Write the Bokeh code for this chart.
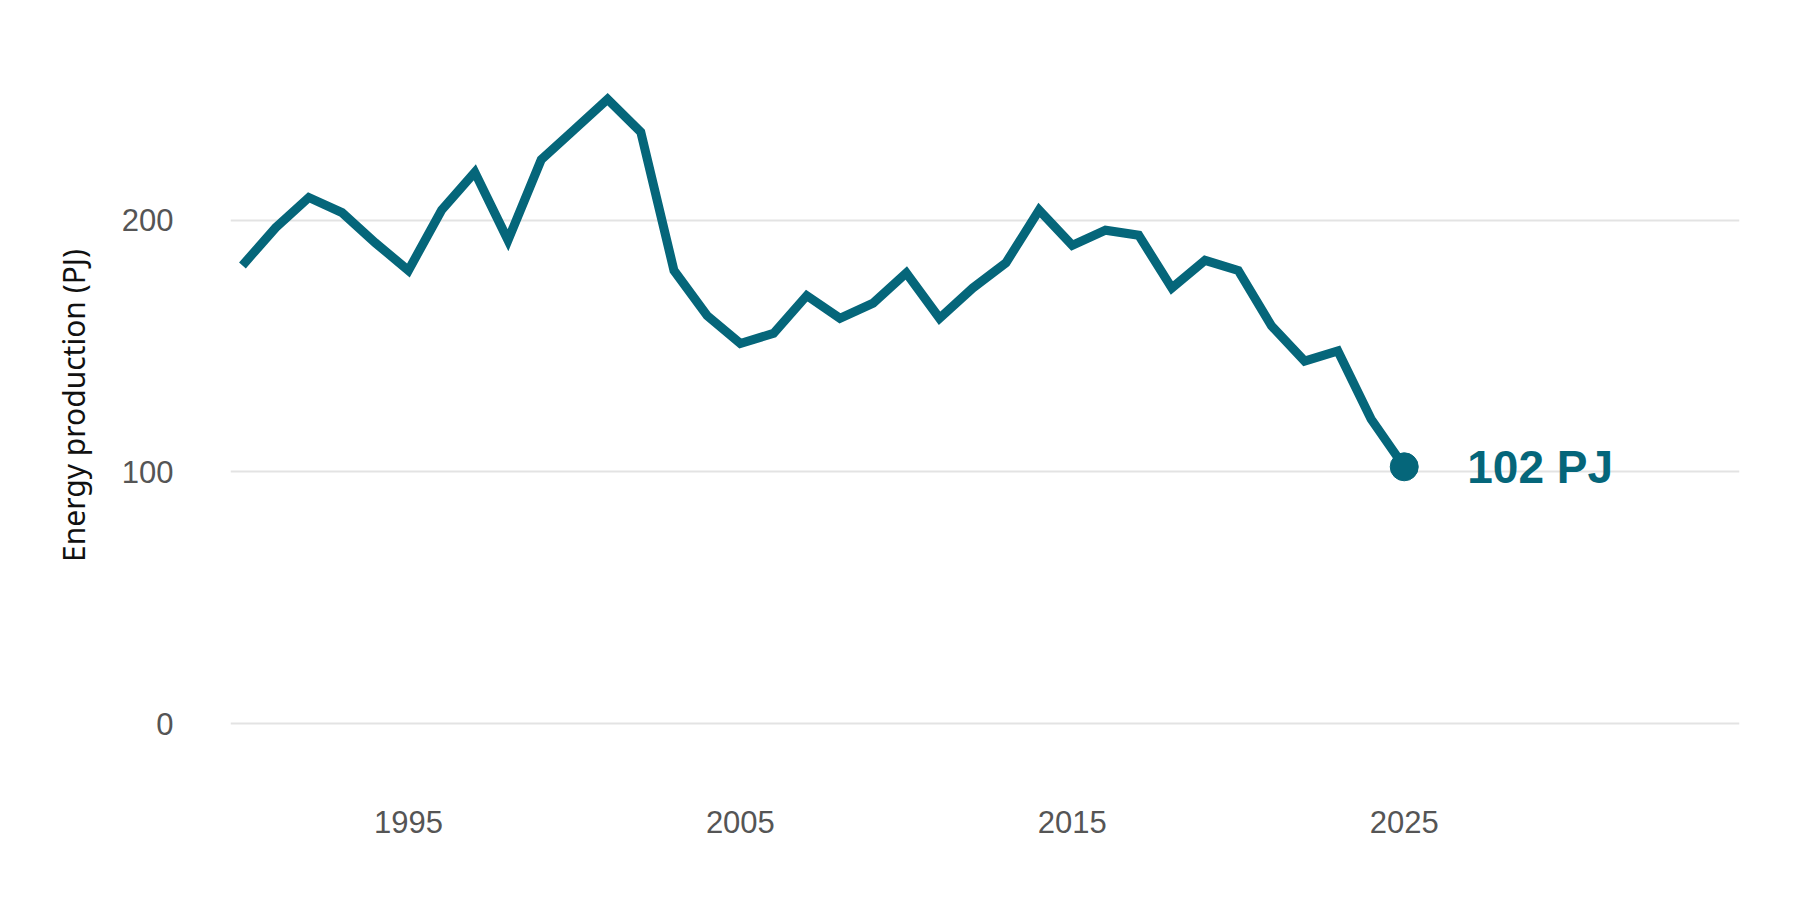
from bokeh.plotting import figure
from bokeh.models import FixedTicker, Range1d
from bokeh.core.properties import value
from bokeh.embed import file_html
from bokeh.resources import INLINE

# energy production per year (PJ)
years = list(range(1990, 2026))
production = [182, 197, 209, 203, 191, 180, 204, 219, 192, 224,
              236, 248, 235, 180, 162, 151, 155, 170, 161, 167,
              179, 161, 173, 183, 204, 190, 196, 194, 173, 184,
              180, 158, 144, 148, 121, 102]

x_ticks = [1995, 2005, 2015, 2025]
y_ticks = [0, 100, 200]

teal = "#05667a"

p = figure(width=1784, height=884, output_backend="svg", toolbar_location=None,
           x_range=Range1d(1989.64, 2035.1), y_range=Range1d(-26.6, 279.3),
           min_border_left=230, min_border_right=45, min_border_top=20, min_border_bottom=94)

p.line(years, production, color=teal, line_width=9, line_join="miter")
p.scatter([years[-1]], [production[-1]], size=28, color=teal)
p.text([years[-1]], [production[-1]], text=[f"{production[-1]} PJ"],
       x_offset=63, text_baseline="middle", text_color=teal,
       text_font=value("Liberation Sans"), text_font_style="bold", text_font_size="46px")

p.outline_line_color = None
p.xgrid.grid_line_color = None
p.ygrid.grid_line_color = "#e3e3e3"
p.ygrid.grid_line_width = 2

p.xaxis.ticker = FixedTicker(ticks=x_ticks)
p.yaxis.ticker = FixedTicker(ticks=y_ticks)

for ax in (p.xaxis, p.yaxis):
    ax.axis_line_color = None
    ax.major_tick_line_color = None
    ax.minor_tick_line_color = None
    ax.major_tick_out = 0
    ax.major_label_text_font = "Liberation Sans"
    ax.major_label_text_font_size = "31px"
    ax.major_label_text_color = "#555555"

p.xaxis.major_label_standoff = 20
p.yaxis.major_label_standoff = 57

p.yaxis.axis_label = "Energy production (PJ)"
p.yaxis.axis_label_text_font = "Noto Sans"
p.yaxis.axis_label_text_font_size = "30px"
p.yaxis.axis_label_text_font_style = "normal"
p.yaxis.axis_label_text_color = "#111111"
p.yaxis.axis_label_standoff = 25

open("out.html", "w").write(file_html(p, INLINE))
